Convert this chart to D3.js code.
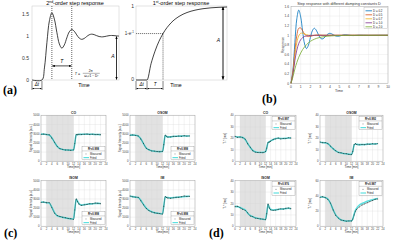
<!DOCTYPE html>
<html><head><meta charset="utf-8">
<script src="https://cdn.jsdelivr.net/npm/d3@7"></script>
<style>body{margin:0;background:#fff}svg{display:block;font-family:"Liberation Sans",Arial,sans-serif}</style>
</head><body><svg id="c" width="400" height="243"></svg>
<script>
// ---------- (a) 2nd-order step response ----------
const a2Time = [-0.8,0,0.2,0.4,0.6,0.8,1.0,1.2,1.4,1.6,1.8,2.0,2.2,2.4,2.6,2.8,3.0,3.2,3.4,3.6,3.8,4.0,4.2,4.4,4.6,4.8,5.0,5.4,5.6,6.0,6.2];
const a2Resp = [0,0,0.274,0.850,1.345,1.526,1.383,1.082,0.819,0.723,0.796,0.956,1.094,1.147,1.107,1.024,0.951,0.923,0.943,0.987,1.026,1.041,1.030,1.007,0.987,0.979,0.984,1.007,1.011,1.002,0.996];
const a2Ticks = [0,0.5,1,1.5];
// ---------- (a) 1st-order step response ----------
const a1Time = [-0.69,0,0.25,0.5,0.75,1,1.5,2,2.5,3,3.5,4,4.5,5];
const a1Resp = [0,0,0.221,0.393,0.528,0.632,0.777,0.865,0.918,0.950,0.970,0.982,0.989,0.993];
// ---------- (b) damping constants ----------
const bTime = [0,0.2,0.4,0.6,0.8,1.0,1.2,1.4,1.6,1.8,2.0,2.2,2.4,2.6,2.8,3.0,3.2,3.4,3.6,3.8,4.0,4.2,4.4,4.6,4.8,5.0,5.4,5.6,6.0,6.4,7,8,9,10];
const bD02 = [0,0.274,0.850,1.345,1.526,1.383,1.082,0.819,0.723,0.796,0.956,1.094,1.147,1.107,1.024,0.951,0.923,0.943,0.987,1.026,1.041,1.030,1.007,0.987,0.979,0.984,1.007,1.011,1.002,0.994,1.002,0.998,1.0,1.0];
const bD05 = [0,0.238,0.663,0.995,1.146,1.153,1.092,1.026,0.986,0.974,0.979,0.990,0.999,1.004,1.004,1.003,1.001,1.0,1.0,1.0,1.0,1.0,1.0,1.0,1.0,1.0,1.0,1.0,1.0,1.0,1.0,1.0,1.0,1.0];
const bD07 = [0,0.218,0.574,0.846,0.991,1.042,1.043,1.028,1.013,1.003,0.999,0.998,0.999,1.0,1.0,1.0,1.0,1.0,1.0,1.0,1.0,1.0,1.0,1.0,1.0,1.0,1.0,1.0,1.0,1.0,1.0,1.0,1.0,1.0];
const bD10 = [0,0.191,0.475,0.692,0.829,0.908,0.952,0.976,0.988,0.994,0.997,0.998,0.999,1.0,1.0,1.0,1.0,1.0,1.0,1.0,1.0,1.0,1.0,1.0,1.0,1.0,1.0,1.0,1.0,1.0,1.0,1.0,1.0,1.0];
const bD20 = [0,0.135,0.299,0.434,0.543,0.631,0.703,0.760,0.806,0.844,0.874,0.898,0.918,0.934,0.946,0.957,0.965,0.972,0.977,0.982,0.985,0.988,0.990,0.992,0.994,0.995,0.997,0.997,0.998,0.999,0.999,1.0,1.0,1.0];
const bLabels = ["D = 0.2","D = 0.5","D = 0.7","D = 1.0","D = 2.0"];
const bColors = ["#0072BD","#D95319","#EDB120","#7E2F8E","#77AC30"];
const bYTicks = [0,0.2,0.4,0.6,0.8,1,1.2,1.4,1.6];
const bXTicks = [0,1,2,3,4,5,6,7,8,9,10];
// ---------- (c)/(d) time course ----------
const tMin = [0,1,2,3,4,5,6,7,8,9,10,11,12,12.5,13,13.5,14,15,16,17,18,19,20,21,22];
const timeTicks = [0,2,4,6,8,10,12,14,16,18,20,22,24];
const cTitles = ["CO","OSOM","ISOM","IM"];
const cR2 = ["R²=0.998","R²=0.998","R²=0.998","R²=0.998"];
const cFitCO   = [2950,2940,2920,2850,2550,2050,1620,1380,1290,1240,1220,1210,1220,2000,2880,2910,2920,2930,2940,2940,2930,2940,2920,2910,2900];
const cMeasCO  = [2930,2960,2900,2880,2530,2080,1600,1370,1300,1230,1230,1200,1240,1950,2900,2880,2940,2910,2950,2960,2920,2950,2900,2920,2880];
const cFitOSOM = [2850,2850,2830,2750,2450,1900,1450,1250,1150,1100,1070,1050,1060,1900,2800,2700,2650,2660,2700,2720,2730,2740,2750,2750,2750];
const cMeasOSOM= [2830,2870,2820,2760,2420,1930,1420,1260,1130,1110,1060,1040,1080,1800,2850,2720,2630,2650,2720,2700,2750,2730,2780,2740,2760];
const cFitISOM = [2650,2640,2600,2550,2100,1500,1150,1050,980,920,870,830,800,1900,2950,2750,2500,2320,2380,2420,2450,2480,2500,2510,2500];
const cMeasISOM= [2620,2660,2580,2600,2050,1450,1180,1080,1000,930,860,820,760,1800,3000,2700,2450,2300,2350,2400,2470,2460,2550,2520,2480];
const cFitIM   = [3300,3250,3200,3150,2850,2400,2000,1750,1600,1500,1450,1400,1380,2300,3200,3180,3150,3120,3150,3170,3200,3220,3250,3280,3300];
const cMeasIM  = [3320,3230,3200,3180,2800,2350,1950,1720,1580,1480,1430,1390,1340,2200,3250,3150,3100,3080,3120,3180,3190,3240,3320,3270,3290];
const cYTicks = [0,1000,2000,3000,4000,5000];
const dR2 = ["R²=0.997","R²=0.992","R²=0.976","R²=0.987"];
const dFitCO   = [21.5,21.2,21,20.8,19,15.5,12,9.5,8.2,7.8,7.6,7.8,8.2,12,16,17,17.8,18.8,19.8,20,19.8,19.8,20,20.2,20.5];
const dMeasCO  = [21.8,20.9,21.2,20.5,19.3,15.2,12.3,9.2,8.0,7.6,7.8,7.5,8.5,11.5,16.5,16.8,17.5,19,19.5,20.2,19.5,19.9,19.7,20.4,20.2];
const dFitOSOM = [16.5,16.3,16,15.5,13,11,9,7.8,7.2,6.8,6.5,6.2,6,9,14,15,14.8,14.5,14.5,14.6,14.8,15,15,15.2,15.3];
const dMeasOSOM= [16.8,16.1,16.2,15.2,13.3,10.8,9.2,7.6,7.4,6.7,6.6,6.0,5.8,8.5,14.5,15.3,14.5,14.3,14.7,14.4,15,14.8,15.2,15.0,15.4];
const dFitISOM = [17.5,17.2,16.5,15.5,14.5,11.5,9.5,8.3,7.5,7,6.6,6.2,6,12,19,16.5,15,14.3,14.5,14.8,15,15.3,15.5,15.8,15.5];
const dMeasISOM= [17.2,17.6,16.2,15.0,14.0,11.8,9.0,8.5,7.2,6.9,6.5,6.3,5.8,11,19.5,16,14.5,14,14.2,14.9,15.3,15.1,15.8,16,15.4];
const dFitIM   = [38.5,38.5,38,36,30,22,15,11,8.5,7.5,7,7,7.2,10,16,21,24,28,30,31.5,33,34,35,36,36.5];
const dMeasIM  = [38,38.8,37.5,35.5,30.5,21.5,14.5,10.8,8.3,7.6,6.8,7.1,7.0,9.5,15,20,22.5,25.5,28,29.5,31,32.5,34,35.5,36];
const dYTicks40 = [0,10,20,30,40];
const dYTicks60 = [0,20,40,60];

const svg = d3.select('#c');
const defs = svg.append('defs');
function marker(id, orient){
  defs.append('marker').attr('id',id).attr('viewBox','0 0 10 10').attr('refX',9).attr('refY',5)
    .attr('markerWidth',4).attr('markerHeight',4).attr('orient',orient)
    .append('path').attr('d','M0,1 L10,5 L0,9 z').attr('fill','#000');
}
marker('arr','auto-start-reverse');

function arrow(g,x1,y1,x2,y2,w){
  g.append('line').attr('x1',x1).attr('y1',y1).attr('x2',x2).attr('y2',y2)
   .attr('stroke','#000').attr('stroke-width',w||0.6)
   .attr('marker-start','url(#arr)').attr('marker-end','url(#arr)');
}
function txt(g,x,y,s,size,anchor,opts){
  const t=g.append('text').attr('x',x).attr('y',y).attr('font-size',size).attr('text-anchor',anchor||'middle').text(s);
  if(opts){for(const k in opts) t.attr(k,opts[k]);}
  return t;
}

// ===== (a) left =====
{
  const g = svg.append('g');
  const x = d3.scaleLinear([-0.8,6.2],[32,119]);
  const y = d3.scaleLinear([0,1.68],[80,6]);
  g.append('rect').attr('x',32).attr('y',6).attr('width',87).attr('height',74).attr('fill','none').attr('stroke','#c8c8c8').attr('stroke-width',0.5);
  a2Ticks.forEach(v=>{
    txt(g,29,y(v)+1.8,String(v),5,'end',{fill:'#333'});
  });
  const line = d3.line().x((d,i)=>x(a2Time[i])).y(d=>y(d)).curve(d3.curveCatmullRom);
  g.append('path').attr('d',line(a2Resp)).attr('fill','none').attr('stroke','#111').attr('stroke-width',0.8);
  [0.8,2.4].forEach(t=>{
    g.append('line').attr('x1',x(t)).attr('x2',x(t)).attr('y1',6).attr('y2',80)
     .attr('stroke','#222').attr('stroke-width',0.7).attr('stroke-dasharray','1,1');
  });
  arrow(g,x(0.8)+0.5,y(0.32),x(2.4)-0.5,y(0.32),0.7);
  txt(g,(x(0.8)+x(2.4))/2,y(0.38),'T',5,'middle',{'font-style':'italic'});
  // formula
  const fx = x(2.4)+3;
  txt(g,fx,74.5,'T =',3.6,'start',{'font-style':'italic'});
  txt(g,fx+16,72,'2π',3.2,'middle');
  g.append('line').attr('x1',fx+8).attr('x2',fx+25).attr('y1',73.3).attr('y2',73.3).attr('stroke','#000').attr('stroke-width',0.3);
  txt(g,fx+16.5,77,'ωₙ√1 − D²',3.2,'middle');
  arrow(g,x(6.0),y(1)+0.5,x(6.0),y(0)-0.5,0.8);
  txt(g,x(6.0)-3.5,y(0.5),'A',5,'middle',{'font-style':'italic'});
  // delta t
  g.append('line').attr('x1',32).attr('x2',32).attr('y1',81).attr('y2',90).attr('stroke','#000').attr('stroke-width',0.5);
  g.append('line').attr('x1',x(0)).attr('x2',x(0)).attr('y1',81).attr('y2',90).attr('stroke','#000').attr('stroke-width',0.5);
  arrow(g,32.5,88.5,x(0)-0.5,88.5,0.5);
  txt(g,(32+x(0))/2,86,'Δt',4.5,'middle',{'font-style':'italic'});
  txt(g,84,87,'Time',5.2,'middle');
  const tt = txt(g,75,4.8,'2',5.5,'middle');
  tt.append('tspan').attr('baseline-shift','super').attr('font-size',3.5).text('nd');
  tt.append('tspan').text('-order step response');
  txt(svg,3,94,'(a)',12,'start',{'font-family':'"Liberation Serif",serif','font-weight':'bold'});
}

// ===== (a) right =====
{
  const g = svg.append('g');
  const x = d3.scaleLinear([-0.69,5],[136,227]);
  const y = d3.scaleLinear([0,1],[80,6.5]);
  g.append('rect').attr('x',136).attr('y',6).attr('width',91).attr('height',74).attr('fill','none').attr('stroke','#c8c8c8').attr('stroke-width',0.5);
  const line = d3.line().x((d,i)=>x(a1Time[i])).y(d=>y(d)).curve(d3.curveMonotoneX);
  g.append('path').attr('d',line(a1Resp)).attr('fill','none').attr('stroke','#111').attr('stroke-width',0.8);
  const v = a1Resp[5];
  g.append('line').attr('x1',136).attr('x2',x(1)).attr('y1',y(v)).attr('y2',y(v)).attr('stroke','#222').attr('stroke-width',0.6).attr('stroke-dasharray','1.2,0.8');
  g.append('line').attr('x1',x(1)).attr('x2',x(1)).attr('y1',y(v)).attr('y2',80).attr('stroke','#222').attr('stroke-width',0.6).attr('stroke-dasharray','1.2,0.8');
  txt(g,134,y(1)+1.8,'1',5,'end',{fill:'#333'});
  const e = txt(g,134,y(v)+1.8,'1-e',4.6,'end',{fill:'#333'});
  e.append('tspan').attr('baseline-shift','super').attr('font-size',3).text('-1');
  txt(g,134,y(0)+1,'0',5,'end',{fill:'#333'});
  arrow(g,x(4.75),y(1)+0.5,x(4.75),y(0)-0.5,0.9);
  txt(g,x(4.75)-4.5,y(0.52),'A',5,'middle',{'font-style':'italic'});
  [136,x(0),x(1)].forEach(xx=>{
    g.append('line').attr('x1',xx).attr('x2',xx).attr('y1',81).attr('y2',90).attr('stroke','#000').attr('stroke-width',0.5);
  });
  arrow(g,136.5,88.5,x(0)-0.5,88.5,0.5);
  arrow(g,x(0)+0.5,88.5,x(1)-0.5,88.5,0.5);
  txt(g,(136+x(0))/2,86,'Δt',4.5,'middle',{'font-style':'italic'});
  txt(g,(x(0)+x(1))/2,86,'T',4.5,'middle',{'font-style':'italic'});
  txt(g,176,87,'Time',5.2,'middle');
  const tt = txt(g,181,4.8,'1',5.5,'middle');
  tt.append('tspan').attr('baseline-shift','super').attr('font-size',3.5).text('st');
  tt.append('tspan').text('-order step response');
}

// ===== (b) =====
{
  const g = svg.append('g');
  const x = d3.scaleLinear([0,10],[291,388]);
  const y = d3.scaleLinear([0,1.6],[83.3,6.5]);
  g.append('rect').attr('x',291).attr('y',6.5).attr('width',97).attr('height',76.8).attr('fill','#fff');
  bXTicks.forEach(v=>g.append('line').attr('x1',x(v)).attr('x2',x(v)).attr('y1',6.5).attr('y2',83.3).attr('stroke','#e6e6e6').attr('stroke-width',0.4));
  bYTicks.forEach(v=>g.append('line').attr('x1',291).attr('x2',388).attr('y1',y(v)).attr('y2',y(v)).attr('stroke','#e6e6e6').attr('stroke-width',0.4));
  g.append('rect').attr('x',291).attr('y',6.5).attr('width',97).attr('height',76.8).attr('fill','none').attr('stroke','#9a9a9a').attr('stroke-width',0.4);
  bYTicks.forEach(v=>txt(g,289,y(v)+1.2,String(v),3.3,'end',{fill:'#444'}));
  bXTicks.forEach(v=>txt(g,x(v),87.5,String(v),3.3,'middle',{fill:'#444'}));
  txt(g,339,92,'Time',3.6,'middle',{fill:'#333'});
  txt(g,0,0,'Response',3.6,'middle',{fill:'#333',transform:'translate(284,45) rotate(-90)'});
  txt(g,339,4.6,'Step response with different damping constants D',3.8,'middle',{fill:'#333'});
  const series=[bD02,bD05,bD07,bD10,bD20];
  const line = d3.line().x((d,i)=>x(bTime[i])).y(d=>y(d)).curve(d3.curveCatmullRom);
  series.forEach((s,k)=>g.append('path').attr('d',line(s)).attr('fill','none').attr('stroke',bColors[k]).attr('stroke-width',0.8));
  g.append('rect').attr('x',364).attr('y',7.2).attr('width',23.5).attr('height',21).attr('fill','#fff').attr('stroke','#9a9a9a').attr('stroke-width',0.3);
  bLabels.forEach((l,k)=>{
    const yy=10.8+k*4;
    g.append('line').attr('x1',365.5).attr('x2',372).attr('y1',yy).attr('y2',yy).attr('stroke',bColors[k]).attr('stroke-width',0.8);
    txt(g,373,yy+1,l,2.9,'start',{fill:'#222'});
  });
  txt(svg,262,103,'(b)',12,'start',{'font-family':'"Liberation Serif",serif','font-weight':'bold'});
}

// ===== small plots (c)/(d) =====
function smallPlot(x0,x1,y0,y1,ymax,yticks,title,ylab,xlab,fit,meas,r2,legTop){
  const g = svg.append('g');
  const x = d3.scaleLinear([0,24],[x0,x1]);
  const y = d3.scaleLinear([0,ymax],[y1,y0]);
  g.append('rect').attr('x',x0).attr('y',y0).attr('width',x1-x0).attr('height',y1-y0).attr('fill','#fff');
  g.append('rect').attr('x',x(2)).attr('y',y0).attr('width',x(12)-x(2)).attr('height',y1-y0).attr('fill','#e2e2e2');
  timeTicks.forEach(v=>g.append('line').attr('x1',x(v)).attr('x2',x(v)).attr('y1',y0).attr('y2',y1).attr('stroke','#d6d6d6').attr('stroke-width',0.3));
  yticks.forEach(v=>g.append('line').attr('x1',x0).attr('x2',x1).attr('y1',y(v)).attr('y2',y(v)).attr('stroke','#d6d6d6').attr('stroke-width',0.3));
  g.append('rect').attr('x',x0).attr('y',y0).attr('width',x1-x0).attr('height',y1-y0).attr('fill','none').attr('stroke','#8a8a8a').attr('stroke-width',0.35);
  yticks.forEach(v=>txt(g,x0-1.5,y(v)+1,String(v),2.8,'end',{fill:'#444'}));
  timeTicks.forEach(v=>txt(g,x(v),y1+3.6,String(v),2.8,'middle',{fill:'#444'}));
  txt(g,(x0+x1)/2,y1+7,xlab,3,'middle',{fill:'#333'});
  txt(g,(x0+x1)/2,y0-1.6,title,3.4,'middle',{fill:'#222','font-weight':'bold'});
  txt(g,0,0,ylab,3,'middle',{fill:'#333',transform:`translate(${x0-9.5},${(y0+y1)/2}) rotate(-90)`});
  const line = d3.line().x((d,i)=>x(tMin[i])).y(d=>y(d)).curve(d3.curveMonotoneX);
  g.append('path').attr('d',line(fit)).attr('fill','none').attr('stroke','#5fe0e0').attr('stroke-width',1.6);
  g.append('path').attr('d',line(meas)).attr('fill','none').attr('stroke','#1a3a3a').attr('stroke-width',0.55).attr('opacity',0.85);
  meas.forEach((d,i)=>g.append('circle').attr('cx',x(tMin[i])).attr('cy',y(d)).attr('r',0.45).attr('fill','#111'));
  // legend
  const lw=23, lh=13.5;
  const lx=x1-lw-1, ly= legTop ? y0+1 : y1-lh-1.5;
  g.append('rect').attr('x',lx).attr('y',ly).attr('width',lw).attr('height',lh).attr('fill','#fff').attr('stroke','#777').attr('stroke-width',0.3);
  txt(g,lx+lw/2,ly+3.4,r2,2.7,'middle',{fill:'#111','font-weight':'bold'});
  g.append('line').attr('x1',lx).attr('x2',lx+lw).attr('y1',ly+4.6).attr('y2',ly+4.6).attr('stroke','#777').attr('stroke-width',0.3);
  g.append('circle').attr('cx',lx+4).attr('cy',ly+7.6).attr('r',0.45).attr('fill','#111');
  txt(g,lx+8,ly+8.5,'Measured',2.6,'start',{fill:'#222'});
  g.append('line').attr('x1',lx+1.5).attr('x2',lx+7).attr('y1',ly+11.3).attr('y2',ly+11.3).attr('stroke','#5fe0e0').attr('stroke-width',1.2);
  txt(g,lx+8,ly+12.2,'Fitted',2.6,'start',{fill:'#222'});
}
const rowsY = [[115.3,161.3],[180.7,226.3]];
const cX = [[41,106],[130,195]];
const dX = [[235,296],[320,383]];
const cFit=[cFitCO,cFitOSOM,cFitISOM,cFitIM], cMeas=[cMeasCO,cMeasOSOM,cMeasISOM,cMeasIM];
const dFit=[dFitCO,dFitOSOM,dFitISOM,dFitIM], dMeas=[dMeasCO,dMeasOSOM,dMeasISOM,dMeasIM];
for(let k=0;k<4;k++){
  const r=Math.floor(k/2), c=k%2;
  smallPlot(cX[c][0],cX[c][1],rowsY[r][0],rowsY[r][1],5000,cYTicks,cTitles[k],'Signal Intensity [a.u.]','Time[min]',cFit[k],cMeas[k],cR2[k],false);
  const big = k===3;
  smallPlot(dX[c][0],dX[c][1],rowsY[r][0],rowsY[r][1],big?60:40,big?dYTicks60:dYTicks40,cTitles[k],'T₂* [ms]','Time [min]',dFit[k],dMeas[k],dR2[k],true);
}
txt(svg,4,237,'(c)',12,'start',{'font-family':'"Liberation Serif",serif','font-weight':'bold'});
txt(svg,209,237,'(d)',12,'start',{'font-family':'"Liberation Serif",serif','font-weight':'bold'});
</script>
</body></html>
